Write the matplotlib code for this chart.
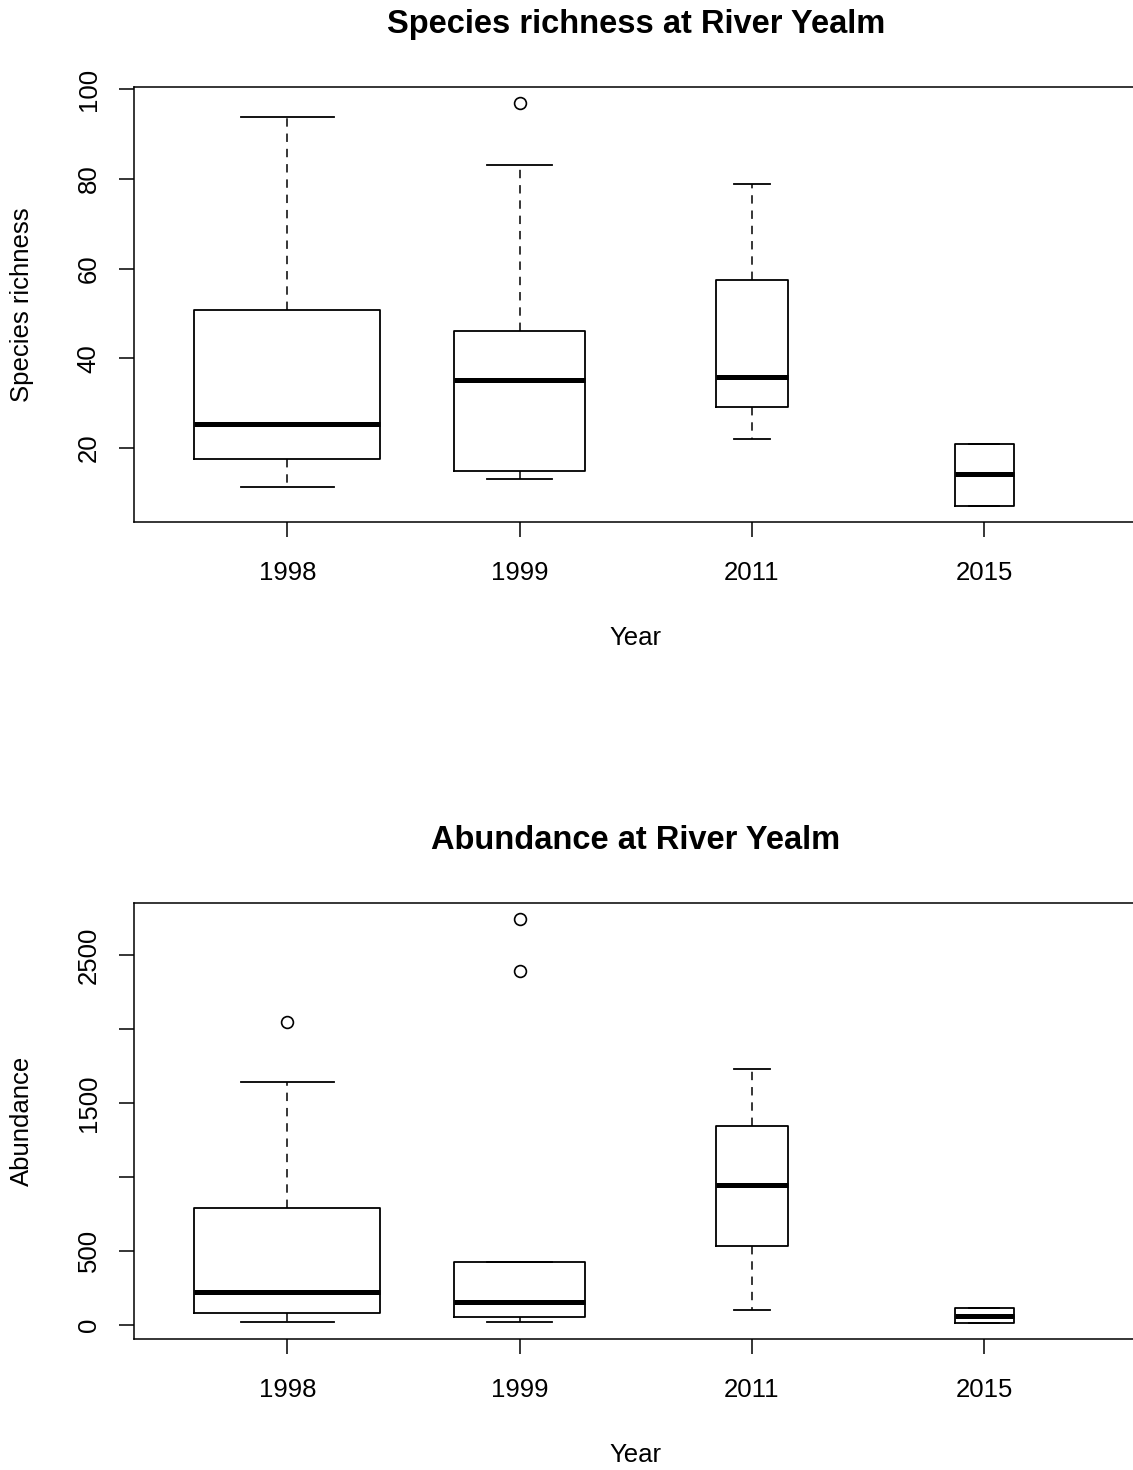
import numpy as np
import matplotlib
matplotlib.use("Agg")
from matplotlib import pyplot as plt

# data (R style boxplots, varwidth)
years = ['1998', '1999', '2011', '2015']
n_samples = [20, 10, 3, 2]

rich_lo = [11.2, 13.1, 22.0, 7.1]
rich_q1 = [17.5, 14.9, 29.1, 7.1]
rich_med = [25.4, 35.2, 35.8, 14.1]
rich_q3 = [50.8, 46.1, 57.4, 20.9]
rich_hi = [93.9, 83.1, 78.8, 20.9]
rich_out = [[], [96.9], [], []]

abun_lo = [20, 20, 99, 14]
abun_q1 = [81, 54, 535, 14]
abun_med = [225, 156, 947, 62]
abun_q3 = [792, 428, 1346, 115]
abun_hi = [1642, 428, 1732, 115]
abun_out = [[2050], [2742, 2393], [], []]

rich_ticks = [20, 40, 60, 80, 100]
rich_ticklabels = ['20', '40', '60', '80', '100']
abun_ticks = [0, 500, 1000, 1500, 2000, 2500]
abun_ticklabels = ['0', '500', '', '1500', '', '2500']

plt.rcParams['font.family'] = ['Liberation Sans', 'DejaVu Sans']

W, H = 1133, 1470
fig = plt.figure(figsize=(W / 100, H / 100), dpi=100)

widths = [0.8 * np.sqrt(n / max(n_samples)) for n in n_samples]
caps = [w / 2 for w in widths]
pos = np.arange(1, len(years) + 1)


def make_stats(lo, q1, med, q3, hi, out):
    return [dict(whislo=a, q1=b, med=c, q3=d, whishi=e, fliers=f)
            for a, b, c, d, e, f in zip(lo, q1, med, q3, hi, out)]


def panel(rect, stats, ticks, ticklabels, title, ylabel):
    ax = fig.add_axes(rect)
    ax.bxp(stats, positions=pos, widths=widths, capwidths=caps,
           boxprops=dict(color='black', lw=1.3),
           medianprops=dict(color='black', lw=3.6, solid_capstyle='butt'),
           whiskerprops=dict(color='black', lw=1.1, linestyle=(0, (5.5, 4.5))),
           capprops=dict(color='black', lw=1.3),
           flierprops=dict(marker='o', markerfacecolor='none',
                           markeredgecolor='black', markersize=8.5,
                           markeredgewidth=1.2))
    vals = [v for s in stats for v in (s['whislo'], s['whishi'], *s['fliers'])]
    lo, hi = min(vals), max(vals)
    ext = 0.04 * (hi - lo)
    ax.set_ylim(lo - ext, hi + ext)
    ax.set_xlim(0.34, 4.66)
    ax.set_xticks(pos)
    ax.set_xticklabels(years)
    ax.set_yticks(ticks)
    ax.set_yticklabels(ticklabels, rotation=90, va='center')
    ax.tick_params(axis='both', length=11, width=1.1, labelsize=18.5,
                   color='black')
    ax.tick_params(axis='x', pad=17)
    ax.tick_params(axis='y', pad=13)
    for s in ax.spines.values():
        s.set_linewidth(1.1)
    ax.set_title(title, fontsize=23.5, fontweight='bold', y=1.105)
    ax.set_xlabel('Year', fontsize=18.5)
    ax.xaxis.set_label_coords(0.5, -0.266)
    ax.xaxis.label.set_va('center')
    ax.set_ylabel(ylabel, fontsize=18.5)
    ax.yaxis.set_label_coords(-0.1116, 0.5)
    ax.yaxis.label.set_va('center')
    return ax


def rect_px(left, top, right, bottom):
    return [left / W, 1 - bottom / H, (right - left) / W, (bottom - top) / H]


panel(rect_px(134, 87, 1137.5, 522),
      make_stats(rich_lo, rich_q1, rich_med, rich_q3, rich_hi, rich_out),
      rich_ticks, rich_ticklabels,
      'Species richness at River Yealm', 'Species richness')
panel(rect_px(134, 903, 1137.5, 1339),
      make_stats(abun_lo, abun_q1, abun_med, abun_q3, abun_hi, abun_out),
      abun_ticks, abun_ticklabels,
      'Abundance at River Yealm', 'Abundance')

fig.savefig('out.png', dpi=100)
